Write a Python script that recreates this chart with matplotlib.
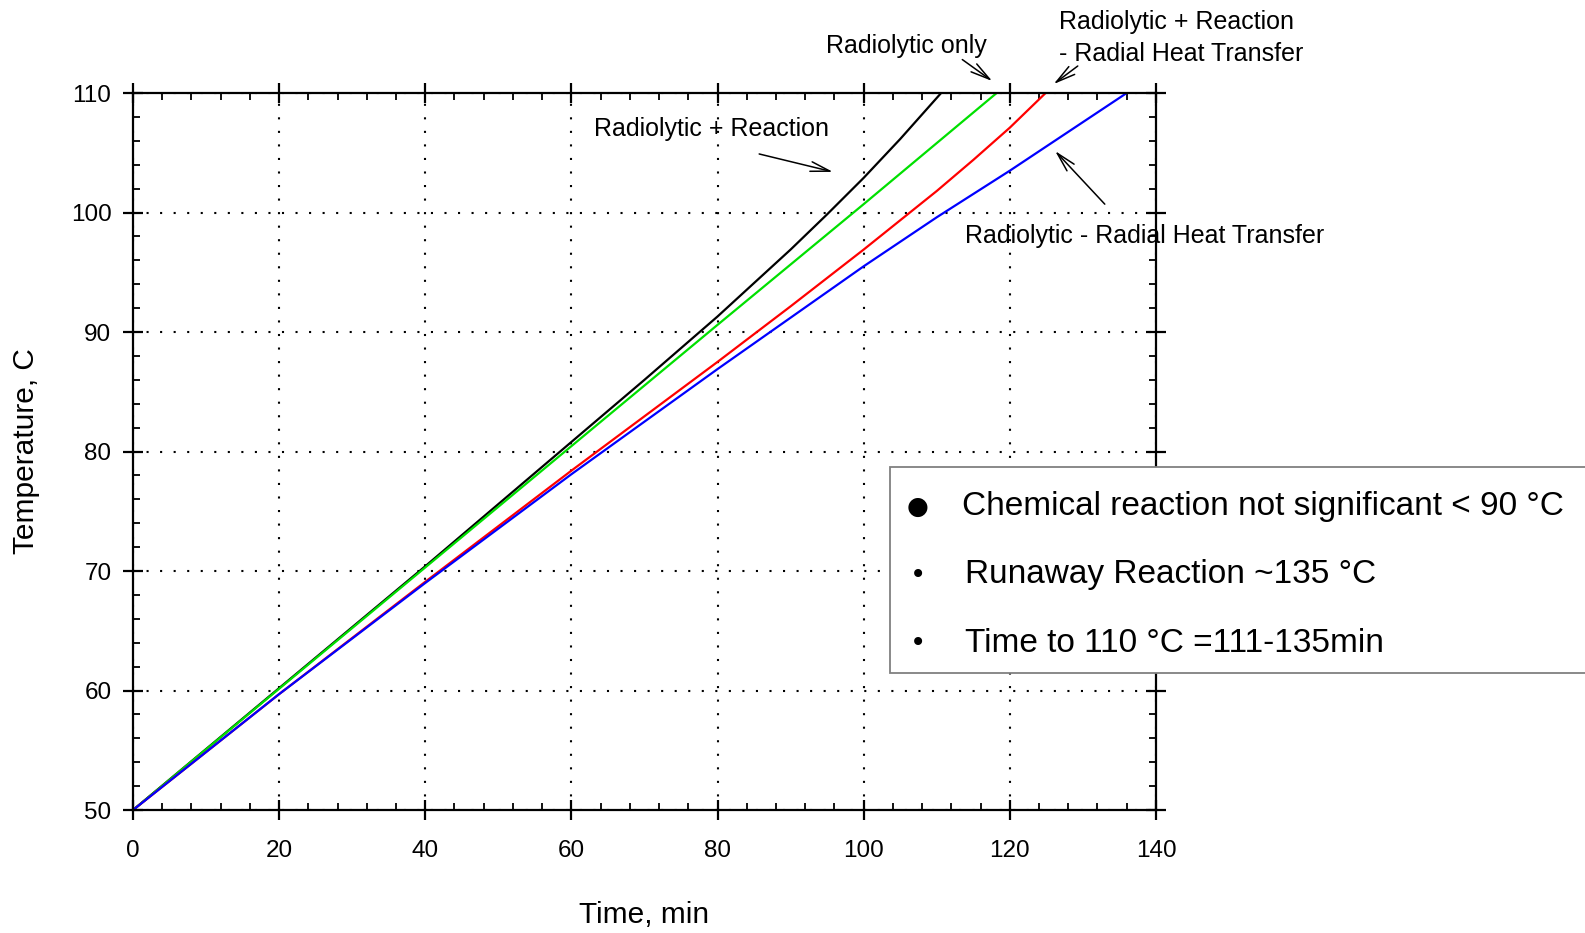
import matplotlib.pyplot as plt
from matplotlib.patches import Rectangle
from matplotlib.ticker import MultipleLocator

plt.rcParams['font.family'] = ['Liberation Sans', 'DejaVu Sans']

# time (min) / temperature (C)
t_rad_react = [0, 20, 40, 60, 70, 80, 90, 95, 100, 105, 110.6]
T_rad_react = [50, 60.2, 70.4, 80.8, 86.0, 91.3, 96.9, 99.85, 102.9, 106.15, 110]

t_rad_only = [0, 20, 40, 60, 80, 100, 118.2]
T_rad_only = [50, 60.15, 70.3, 80.45, 90.6, 100.7, 110]

t_rad_react_heat = [0, 20, 40, 60, 80, 90, 100, 110, 115, 120, 124.9]
T_rad_react_heat = [50, 59.7, 69.1, 78.4, 87.5, 92.15, 96.9, 101.8, 104.4, 107.1, 110]

t_rad_heat = [0, 20, 40, 60, 80, 100, 110, 120, 136.0]
T_rad_heat = [50, 59.7, 69.0, 78.1, 86.9, 95.5, 99.6, 103.5, 110]

bullets = ['Chemical reaction not significant < 90 °C',
           'Runaway Reaction ~135 °C',
           'Time to 110 °C =111-135min']


def main():
    fig = plt.figure(figsize=(15.85, 9.33), dpi=100)
    ax = fig.add_axes([0.0839, 0.1318, 0.6454, 0.7685])

    lw = 1.6
    ax.plot(t_rad_react, T_rad_react, color='black', lw=lw)
    ax.plot(t_rad_only, T_rad_only, color='#00e000', lw=lw)
    ax.plot(t_rad_react_heat, T_rad_react_heat, color='red', lw=lw)
    ax.plot(t_rad_heat, T_rad_heat, color='blue', lw=lw)

    ax.set_xlim(0, 140)
    ax.set_ylim(50, 110)
    ax.xaxis.set_major_locator(MultipleLocator(20))
    ax.xaxis.set_minor_locator(MultipleLocator(4))
    ax.yaxis.set_major_locator(MultipleLocator(10))
    ax.yaxis.set_minor_locator(MultipleLocator(2))

    ax.tick_params(which='major', direction='inout', length=15, width=1.6,
                   top=True, right=True, labelsize=17.5)
    ax.tick_params(which='minor', direction='in', length=5, width=1.3,
                   top=True, right=True)
    ax.tick_params(axis='x', which='major', pad=14)
    ax.tick_params(axis='y', which='major', pad=8)
    for s in ax.spines.values():
        s.set_linewidth(1.6)

    ax.grid(True, which='major', color='black', lw=1.5, linestyle=(0, (1, 5.5)))

    ax.set_xlabel('Time, min', fontsize=21.5, labelpad=28)
    ax.set_ylabel('Temperature, C', fontsize=21.5, labelpad=22)

    arrow = dict(arrowstyle='->,head_length=1.4,head_width=0.35', color='black',
                 lw=1.1, mutation_scale=10, shrinkA=0, shrinkB=0)
    fs = 18
    ax.annotate('', xy=(95.8, 103.4), xytext=(85.7, 104.9),
                arrowprops=arrow, annotation_clip=False)
    ax.text(79.2, 106.96, 'Radiolytic + Reaction', fontsize=fs,
            ha='center', va='center')

    ax.annotate('', xy=(117.6, 111.0), xytext=(113.5, 112.8),
                arrowprops=arrow, annotation_clip=False)
    ax.text(105.9, 113.9, 'Radiolytic only', fontsize=fs,
            ha='center', va='center', clip_on=False)

    ax.annotate('', xy=(126.0, 110.75), xytext=(129.3, 112.26),
                arrowprops=arrow, annotation_clip=False)
    ax.text(126.8, 114.6, 'Radiolytic + Reaction\n- Radial Heat Transfer',
            fontsize=fs, ha='left', va='center', linespacing=1.4,
            clip_on=False)

    ax.annotate('', xy=(126.2, 105.15), xytext=(133.0, 100.7),
                arrowprops=arrow, annotation_clip=False)
    ax.text(113.8, 98.0, 'Radiolytic - Radial Heat Transfer', fontsize=fs,
            ha='left', va='center', clip_on=False)

    # note box on the right
    W, H = 1585.0, 933.0
    box = Rectangle((890 / W, 1 - 673 / H), 1.0, (673 - 467) / H,
                    transform=fig.transFigure, facecolor='white',
                    edgecolor='#808080', lw=1.3, zorder=5)
    fig.add_artist(box)
    ys = [507, 575, 643]
    xs = [962, 965, 965]
    marks = ['●', '•', '•']
    msizes = [18, 20, 20]
    for x, y, m, ms, txt in zip(xs, ys, marks, msizes, bullets):
        fig.text(918 / W, 1 - y / H, m, fontsize=ms, ha='center', va='center',
                 family=['DejaVu Sans'], zorder=6)
        fig.text(x / W, 1 - y / H, txt, fontsize=24, ha='left', va='center',
                 zorder=6)

    fig.savefig('out.png', dpi=100)


if __name__ == '__main__':
    main()
